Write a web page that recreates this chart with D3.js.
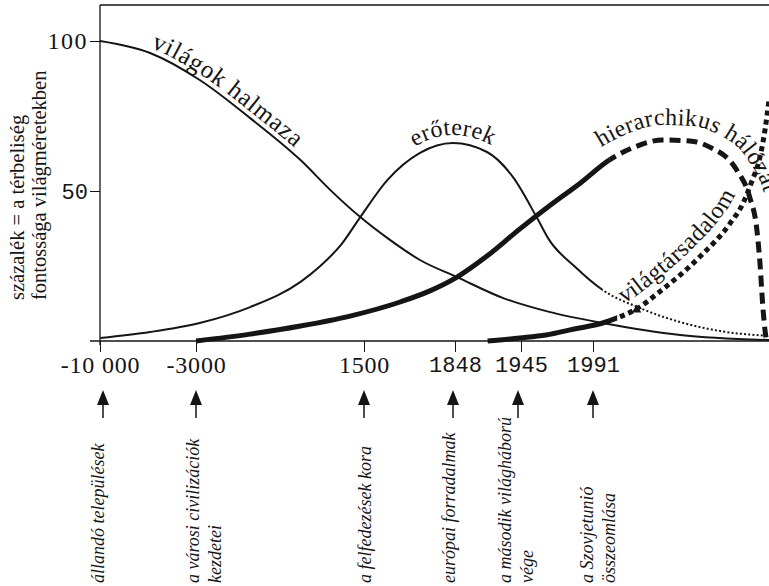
<!DOCTYPE html>
<html lang="hu">
<head>
<meta charset="utf-8">
<script src="https://cdn.jsdelivr.net/npm/d3@7"></script>
<style>
  html, body { margin: 0; padding: 0; background: #fff; }
  svg { display: block; }
</style>
</head>
<body>
<div id="chart"></div>
<script>
// Tick values and labels
const xTicks = [-10000, -3000, 1500, 1848, 1945, 1991];
const xTickLabels = ["-10 000", "-3000", "1500", "1848", "1945", "1991"];
const xTickMono = [false, false, false, true, true, true];
const yTicks = [100, 50];
const yTickMono = [false, true];

// Series values: [year, percent]
const vilagokHalmaza = [
  [-10000, 100], [-6350, 96], [-2900, 87], [-1550, 74.3], [-200, 60.3],
  [600, 50.3], [1400, 41.3], [1599, 33.7], [1714, 27], [1851, 21.3],
  [1919, 14.3], [1963, 9.7], [1997, 6], [2045, 2], [2100, 0.3]
];
const eroterek = [
  [-10000, 1], [-6350, 3], [-2900, 6], [-1550, 11.3], [-200, 19.7],
  [330, 25], [900, 32.3], [1400, 41.3], [1590, 53.7], [1714, 62.7],
  [1840, 66], [1895, 63], [1933, 54.7], [1956, 40.3], [1963, 33.7],
  [1979, 25], [1997, 17], [2020, 11], [2045, 6.3], [2070, 3.3], [2100, 1.7]
];
const hierarchikusHalozat = [
  [-3000, 0], [-1550, 2.3], [-200, 5], [1125, 8.3], [1638, 13], [1752, 16.7],
  [1851, 21.3], [1895, 28.3], [1943, 37.3], [1963, 45], [1983, 52.7],
  [2001, 60.3], [2017, 64.7], [2034, 67], [2051, 66.7], [2063, 64.7],
  [2080, 57], [2088, 48], [2092.5, 37], [2094.4, 26], [2096.2, 11.3],
  [2097.5, 3.7], [2098.5, 0]
];
const vilagtarsadalom = [
  [1896, 0], [1943, 1], [1961, 2], [1979, 4], [1997, 6], [2006, 7.7],
  [2018, 10.7], [2032, 16.3], [2057, 28], [2076, 39.3], [2084, 46],
  [2089, 52.7], [2094.4, 61.3], [2097.5, 70.3], [2100, 80.3]
];

// Year where each line changes from solid to broken
const breakYears = [null, 1997, 2001, 2006];

// Curve labels and the year where each one sits
const curveLabels = ["világok halmaza", "erőterek", "hierarchikus hálózat", "világtársadalom"];
const curveLabelYears = [-6300, 1840, 1996, 2010];

// Small triangle sitting on the dotted lines
const markers = [[2018, 10.7]];

// Events under the axis
const eventYears = [-10000, -3000, 1500, 1848, 1945, 1991];
const eventLabels = [
  ["állandó települések"],
  ["a városi civilizációk", "kezdetei"],
  ["a felfedezések kora"],
  ["európai forradalmak"],
  ["a második világháború", "vége"],
  ["a Szovjetunió", "összeomlása"]
];

const yTitle = ["százalék = a térbeliség", "fontossága világméretekben"];

const width = 769;
const height = 586;
const serif = '"Liberation Serif", serif';
const mono = '"Liberation Mono", monospace';
const ink = "#151515";

const plot = { left: 100, right: 769, top: 5, bottom: 341 };

// The time axis is not to scale: each tick gets its own stretch
const xScale = d3
  .scaleLinear()
  .domain([-10000, -3000, 1500, 1848, 1945, 1991, 2100])
  .range([100, 196, 364, 455, 521, 593, 769]);
const yScale = d3.scaleLinear().domain([0, 100]).range([plot.bottom, 41]);

const svg = d3
  .select("#chart")
  .append("svg")
  .attr("width", width)
  .attr("height", height);

const defs = svg.append("defs");

const line = d3
  .line()
  .x((d) => xScale(d[0]))
  .y((d) => yScale(d[1]))
  .curve(d3.curveMonotoneX);

// line styles
const seriesList = [vilagokHalmaza, eroterek, hierarchikusHalozat, vilagtarsadalom];
const strokeWidths = [2, 2, 5, 5];
const brokenDash = [null, "2,2.2", "11,6", "5,4"];
const labelGap = [5, 8, 15, 11];
const labelSize = [25, 24, 24, 24];
const labelSpacing = [0.8, 0.3, 0.3, 0.3];

// Clip for everything inside the frame
defs
  .append("clipPath")
  .attr("id", "plot-clip")
  .append("rect")
  .attr("x", plot.left)
  .attr("y", plot.top)
  .attr("width", plot.right - plot.left)
  .attr("height", plot.bottom - plot.top + 3);

const curves = svg.append("g").attr("clip-path", "url(#plot-clip)");

seriesList.forEach((data, i) => {
  const d = line(data);
  defs.append("path").attr("id", "curve-" + i).attr("d", d);

  const brk = breakYears[i];
  if (brk === null) {
    curves
      .append("path")
      .attr("d", d)
      .attr("fill", "none")
      .attr("stroke", ink)
      .attr("stroke-width", strokeWidths[i]);
    return;
  }

  // solid part left of the break, broken part right of it
  const bx = xScale(brk);
  defs
    .append("clipPath")
    .attr("id", "solid-" + i)
    .append("rect")
    .attr("x", 0)
    .attr("y", 0)
    .attr("width", bx)
    .attr("height", height);
  defs
    .append("clipPath")
    .attr("id", "broken-" + i)
    .append("rect")
    .attr("x", bx)
    .attr("y", 0)
    .attr("width", width - bx)
    .attr("height", height);

  curves
    .append("path")
    .attr("d", d)
    .attr("clip-path", `url(#solid-${i})`)
    .attr("fill", "none")
    .attr("stroke", ink)
    .attr("stroke-width", strokeWidths[i]);

  curves
    .append("path")
    .attr("d", d)
    .attr("clip-path", `url(#broken-${i})`)
    .attr("fill", "none")
    .attr("stroke", ink)
    .attr("stroke-width", strokeWidths[i])
    .attr("stroke-dasharray", brokenDash[i]);
});

// small triangle marker
curves
  .selectAll(".marker")
  .data(markers)
  .enter()
  .append("path")
  .attr("class", "marker")
  .attr("transform", (d) => `translate(${xScale(d[0])},${yScale(d[1]) + 1})`)
  .attr("d", d3.symbol().type(d3.symbolTriangle).size(38))
  .attr("fill", ink);

// Find the path length at a given x (paths run left to right)
function lengthAtX(node, x) {
  let lo = 0;
  let hi = node.getTotalLength();
  for (let k = 0; k < 40; k++) {
    const mid = (lo + hi) / 2;
    if (node.getPointAtLength(mid).x < x) lo = mid;
    else hi = mid;
  }
  return lo;
}

// Build a path running parallel to a curve, "gap" pixels on its upper side
function offsetPath(node, gap) {
  const total = node.getTotalLength();
  const pts = [];
  for (let s = 0; s <= total; s += 2) pts.push(node.getPointAtLength(s));
  const out = pts.map((p, k) => {
    const a = pts[Math.max(0, k - 3)];
    const b = pts[Math.min(pts.length - 1, k + 3)];
    const dx = b.x - a.x;
    const dy = b.y - a.y;
    const len = Math.hypot(dx, dy) || 1;
    return [p.x + (dy / len) * gap, p.y - (dx / len) * gap];
  });
  return d3.line().curve(d3.curveBasis)(out);
}

// Labels written along the curves
curveLabels.forEach((label, i) => {
  const node = document.getElementById("curve-" + i);
  const labelPath = defs
    .append("path")
    .attr("id", "label-path-" + i)
    .attr("d", offsetPath(node, labelGap[i]));
  const offset = lengthAtX(labelPath.node(), xScale(curveLabelYears[i]));
  const centred = i === 1;
  svg
    .append("text")
    .attr("font-family", serif)
    .attr("font-size", labelSize[i])
    .attr("letter-spacing", labelSpacing[i])
    .attr("fill", ink)
    .append("textPath")
    .attr("href", "#label-path-" + i)
    .attr("startOffset", offset)
    .attr("text-anchor", centred ? "middle" : "start")
    .text(label);
});

// Frame: top edge, left axis line, bottom axis line
svg
  .append("line")
  .attr("x1", plot.left)
  .attr("x2", plot.right)
  .attr("y1", plot.top)
  .attr("y2", plot.top)
  .attr("stroke", ink)
  .attr("stroke-width", 1.3);

svg
  .append("line")
  .attr("x1", plot.left)
  .attr("x2", plot.left)
  .attr("y1", plot.top)
  .attr("y2", plot.bottom + 4)
  .attr("stroke", ink)
  .attr("stroke-width", 1.3);

svg
  .append("line")
  .attr("x1", 90)
  .attr("x2", plot.right)
  .attr("y1", plot.bottom)
  .attr("y2", plot.bottom)
  .attr("stroke", ink)
  .attr("stroke-width", 1.3);

// X axis
const xAxis = svg
  .append("g")
  .attr("transform", `translate(0,${plot.bottom})`)
  .call(
    d3
      .axisBottom(xScale)
      .tickValues(xTicks)
      .tickSize(11)
      .tickPadding(4)
      .tickFormat((d, i) => xTickLabels[i])
  );
xAxis.select(".domain").remove();
xAxis.selectAll(".tick line").attr("stroke", ink).attr("stroke-width", 1);
xAxis
  .selectAll(".tick text")
  .attr("fill", ink)
  .style("font-family", (d, i) => (xTickMono[i] ? mono : serif))
  .style("font-size", (d, i) => (xTickMono[i] ? "22px" : "24px"))
  .style("letter-spacing", (d, i) => (xTickMono[i] ? "0px" : "0.8px"));

// Y axis
const yAxis = svg
  .append("g")
  .attr("transform", `translate(${plot.left},0)`)
  .call(
    d3
      .axisLeft(yScale)
      .tickValues(yTicks)
      .tickSize(10)
      .tickPadding(2)
  );
yAxis.select(".domain").remove();
yAxis.selectAll(".tick line").attr("stroke", ink).attr("stroke-width", 1);
yAxis
  .selectAll(".tick text")
  .attr("fill", ink)
  .style("font-family", (d, i) => (yTickMono[i] ? mono : serif))
  .style("font-size", (d, i) => (yTickMono[i] ? "22px" : "24px"))
  .style("letter-spacing", (d, i) => (yTickMono[i] ? "0px" : "1.5px"));

// Y title, two rotated lines
yTitle.forEach((t, j) => {
  svg
    .append("text")
    .attr("transform", `translate(${24 + j * 22},300) rotate(-90)`)
    .attr("font-family", serif)
    .attr("font-size", 20.5)
    .attr("fill", ink)
    .text(t);
});

// Event arrows and rotated captions
const arrowNudge = [3, 0, 0, -2, -3, 0];
const captionNudge = [4, 3, 7, 0, -10, 0];

const events = svg.append("g");

eventYears.forEach((year, i) => {
  const ax = xScale(year) + arrowNudge[i];
  events
    .append("line")
    .attr("x1", ax)
    .attr("x2", ax)
    .attr("y1", 400)
    .attr("y2", 418)
    .attr("stroke", ink)
    .attr("stroke-width", 1.5);
  events
    .append("path")
    .attr("d", `M${ax - 6},405 L${ax},390 L${ax + 6},405 Z`)
    .attr("fill", ink);

  eventLabels[i].forEach((t, j) => {
    const tx = xScale(year) + captionNudge[i] + j * 22;
    events
      .append("text")
      .attr("transform", `translate(${tx},583) rotate(-90)`)
      .attr("font-family", serif)
      .attr("font-style", "italic")
      .attr("font-size", 18)
      .attr("fill", ink)
      .text(t);
  });
});
</script>
</body>
</html>
